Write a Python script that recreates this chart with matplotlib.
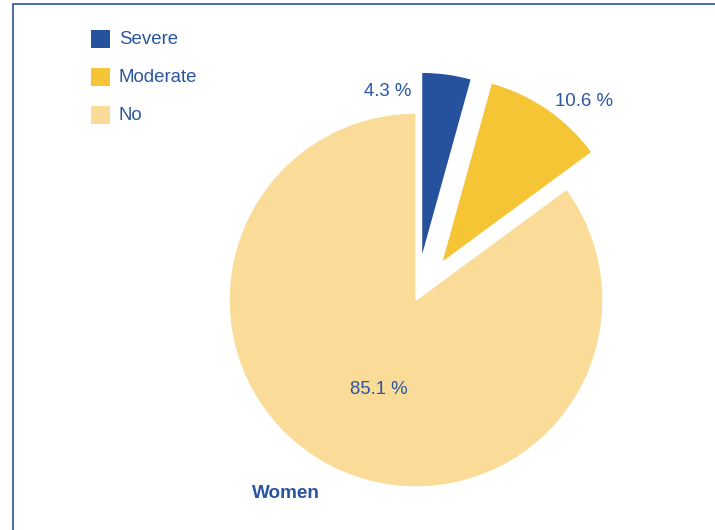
import matplotlib
matplotlib.use('Agg')
import matplotlib.pyplot as plt
from matplotlib.patches import Rectangle

plt.rcParams['font.family'] = ['Liberation Sans', 'DejaVu Sans']

categories = ['Severe', 'Moderate', 'No']
shares = [4.3, 10.6, 85.1]
colors = ['#26519c', '#f5c535', '#fadc98']
text_color = '#2a55a0'

radius = 187
# explode offsets are in data units here (axes use pixel-sized units)
explode = [0.22 * radius, 0.24 * radius, 0.0]

fig = plt.figure(figsize=(7.15, 5.3), dpi=100)
ax = fig.add_axes([0, 0, 1, 1])

wedges, _ = ax.pie(shares, colors=colors, explode=explode, startangle=90,
                   counterclock=False, center=(416, 230), radius=radius,
                   wedgeprops=dict(edgecolor='white', linewidth=1), frame=True)
ax.set_xlim(0, 715)
ax.set_ylim(0, 530)
ax.set_aspect('equal')
ax.axis('off')

# percentage labels
label_pos = [(388, 438), (584, 428), (379, 140)]
for v, (x, y) in zip(shares, label_pos):
    ax.text(x, y, '%.1f %%' % v, color=text_color, fontsize=13.4,
            ha='center', va='center')

# legend squares
for i, (name, c) in enumerate(zip(categories, colors)):
    y = 491 - i * 38
    ax.add_patch(Rectangle((91, y - 9), 19, 18, facecolor=c, edgecolor='none'))
    ax.text(119, y, name, color=text_color, fontsize=13.4, va='center', ha='left')

ax.text(286, 36, 'Women', color=text_color, fontsize=13.6, fontweight='bold',
        ha='center', va='center')

# outer frame
ax.add_patch(Rectangle((12.5, -20), 760, 546, facecolor='none',
                       edgecolor=text_color, linewidth=1.2, clip_on=False))

plt.savefig('out.png', dpi=100)
